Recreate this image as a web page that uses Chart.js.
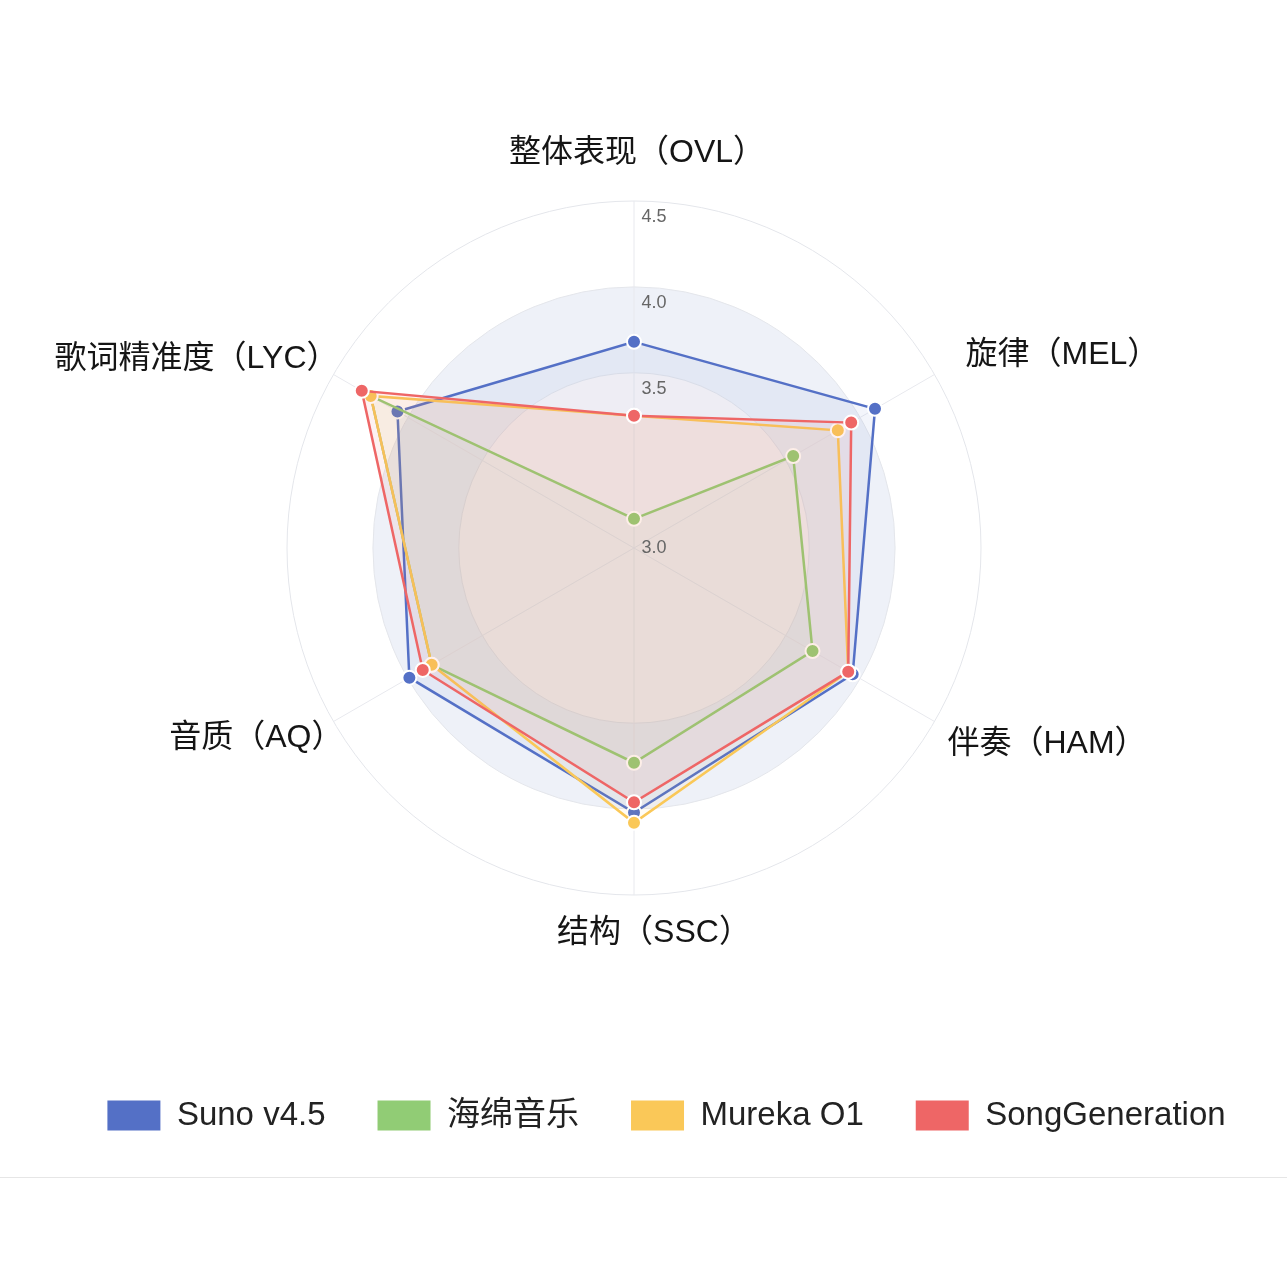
<!DOCTYPE html>
<html lang="zh-CN">
<head>
<meta charset="utf-8">
<title>音乐生成模型评测雷达图</title>
<script src="https://cdn.jsdelivr.net/npm/chart.js@4.4.1/dist/chart.umd.min.js"></script>
<style>
  html, body { margin: 0; padding: 0; background: #fff; }
  .chart-box { position: relative; width: 1287px; height: 1177px; border-bottom: 1px solid #e6e6e6; }
</style>
</head>
<body>
<div class="chart-box"><canvas id="radarChart"></canvas></div>
<script>
/* ==========================
   Data
   ========================== */
const dimensions = ['整体表现（OVL）', '旋律（MEL）', '伴奏（HAM）', '结构（SSC）', '音质（AQ）', '歌词精准度（LYC）'];
const modelNames = ['Suno v4.5', '海绵音乐', 'Mureka O1', 'SongGeneration'];

const sunoScores = [3.68, 4.10, 3.95, 4.02, 3.99, 4.07];
const haimianScores = [2.65, 3.55, 3.68, 3.73, 3.84, 4.25];
const murekaScores = [3.25, 3.85, 3.92, 4.08, 3.84, 4.25];
const songGenScores = [3.25, 3.94, 3.92, 3.96, 3.90, 4.31];

const scaleMin = 2.48;
const scaleMax = 4.5;
const ringTicks = [3.5, 4.0, 4.5];
const centerTickLabel = '3.0';

/* ==========================
   Styles
   ========================== */
const seriesColors = ['#5470c6', '#91cc75', '#fac858', '#ee6666'];
const seriesFills = ['rgba(84,112,198,0.07)', 'rgba(145,204,117,0.05)', 'rgba(250,200,88,0.06)', 'rgba(238,102,102,0.09)'];
const LABEL_FONT = '"Liberation Sans", "Noto Sans CJK SC", sans-serif';

// band fills behind the grid (outer first)
const bands = [
  { value: 4.0, color: '#eef1f8' },
  { value: 3.5, color: '#faf7f8' }
];

// where each axis title sits relative to the end of its axis line
const axisTitleOffsets = [
  { dx: 3, dy: -48, align: 'center' },
  { dx: 31, dy: -19, align: 'left' },
  { dx: 13, dy: 23, align: 'left' },
  { dx: 20, dy: 38, align: 'center' },
  { dx: 10, dy: 17, align: 'right' },
  { dx: 5, dy: -15, align: 'right' }
];

/* ==========================
   Plugin: bands, tick labels, axis titles
   ========================== */
const radarDecor = {
  id: 'radarDecor',
  beforeDraw(chart) {
    const s = chart.scales.r;
    const ctx = chart.ctx;
    ctx.save();
    bands.forEach(b => {
      ctx.beginPath();
      ctx.arc(s.xCenter, s.yCenter, s.getDistanceFromCenterForValue(b.value), 0, Math.PI * 2);
      ctx.fillStyle = b.color;
      ctx.fill();
    });
    ctx.restore();
  },
  afterDraw(chart) {
    const s = chart.scales.r;
    const ctx = chart.ctx;
    ctx.save();

    // value labels, just inside each ring
    ctx.font = '18px ' + LABEL_FONT;
    ctx.fillStyle = '#666';
    ctx.textAlign = 'center';
    ctx.textBaseline = 'middle';
    ctx.fillText(centerTickLabel, s.xCenter + 20, s.yCenter);
    ringTicks.forEach(v => {
      const d = s.getDistanceFromCenterForValue(v);
      ctx.fillText(v.toFixed(1), s.xCenter + 20, s.yCenter - d + 16);
    });

    // axis titles
    ctx.font = '32px ' + LABEL_FONT;
    ctx.fillStyle = '#151515';
    dimensions.forEach((name, i) => {
      const p = s.getPointPosition(i, s.drawingArea);
      const o = axisTitleOffsets[i];
      ctx.textAlign = o.align;
      ctx.fillText(name, p.x + o.dx, p.y + o.dy);
    });
    ctx.restore();
  }
};

/* ==========================
   Chart
   ========================== */
function buildDatasets() {
  const series = [sunoScores, haimianScores, murekaScores, songGenScores];
  return series.map((values, i) => ({
    label: modelNames[i],
    data: values,
    borderColor: seriesColors[i],
    backgroundColor: seriesFills[i],
    borderWidth: 2.5,
    fill: true,
    pointRadius: 7,
    pointBorderWidth: 2,
    pointBorderColor: '#ffffff',
    pointBackgroundColor: seriesColors[i],
    order: series.length - i   // later series on top
  }));
}

function init() {
  const ctx = document.getElementById('radarChart');

  new Chart(ctx, {
    type: 'radar',
    data: { labels: dimensions, datasets: buildDatasets() },
    plugins: [radarDecor],
    options: {
      responsive: true,
      maintainAspectRatio: false,
      animation: false,
      layout: { padding: { top: 201, bottom: 35, left: 46, right: 0 } },
      elements: { line: { tension: 0 } },
      scales: {
        r: {
          min: scaleMin,
          max: scaleMax,
          afterBuildTicks: s => { s.ticks = [scaleMin].concat(ringTicks).map(v => ({ value: v })); },
          afterFit: s => { s.xCenter -= 32; },
          ticks: { display: false },
          pointLabels: { display: false },
          grid: { circular: true, color: '#e4e6eb', lineWidth: 1 },
          angleLines: { color: '#e8e9ee', lineWidth: 1 }
        }
      },
      plugins: {
        tooltip: { enabled: false },
        legend: {
          position: 'bottom',
          title: { display: true, text: ' ', font: { size: 10 }, padding: { top: 0, bottom: 140 } },
          labels: {
            boxWidth: 53,
            boxHeight: 30,
            padding: 52,
            color: '#222',
            font: { size: 33, family: LABEL_FONT },
            sort: (a, b) => a.datasetIndex - b.datasetIndex,
            generateLabels: chart => Chart.defaults.plugins.legend.labels.generateLabels(chart).map(item => ({
              ...item,
              fillStyle: seriesColors[item.datasetIndex],
              strokeStyle: seriesColors[item.datasetIndex],
              lineWidth: 0
            }))
          }
        }
      }
    }
  });
}

if (document.readyState === 'loading') {
  document.addEventListener('DOMContentLoaded', init);
} else {
  init();
}
</script>
</body>
</html>
